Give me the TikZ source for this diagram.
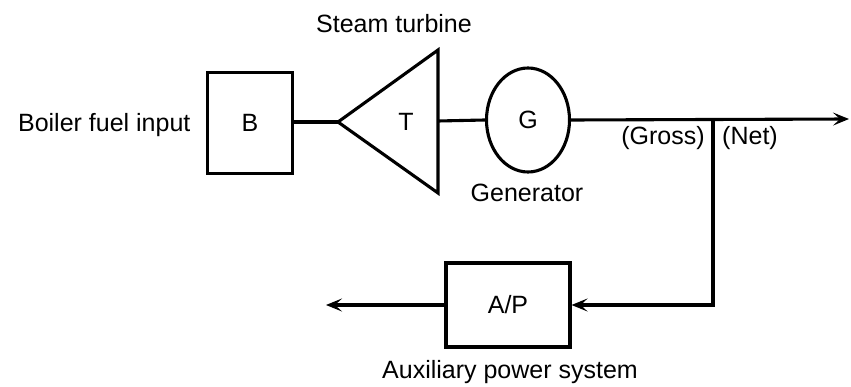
\documentclass[tikz,border=0pt]{standalone}
\usepackage{fontspec}
\setmainfont{Liberation Sans}
\usetikzlibrary{arrows.meta,shapes.geometric}
\begin{document}
\begin{tikzpicture}[x=1pt,y=-1pt, line width=3.1pt,
  lbl/.style={font=\fontsize{25}{29}\selectfont, inner sep=0pt},
  arr/.style={-{Stealth[length=16pt,width=13pt,inset=7pt]}}]
\useasboundingbox (0,0) rectangle (851,387);
% boiler
\node[draw, minimum width=85pt, minimum height=101pt, lbl] (B) at (250,123) {B};
% turbine
\coordinate (Ttip) at (338,122);
\coordinate (Ttop) at (438,50);
\coordinate (Tbot) at (438,193);
\draw[line join=miter] (Ttip) -- (Ttop) -- (Tbot) -- cycle;
\node[lbl] (T) at (406,122) {T};
\coordinate (Tright) at (438,121);
% generator
\node[draw, ellipse, minimum width=83pt, minimum height=104pt, lbl] (G) at (528,120) {G};
% auxiliary
\node[draw, minimum width=124pt, minimum height=84pt, lbl] (AP) at (508,305) {A/P};
\coordinate (Out) at (849,119);
\coordinate (J) at (713,119);
\coordinate (Aout) at (326,305);
% connectors
\draw (B.east |- Ttip) -- (Ttip);
\draw (Tright) -- (G.west);
\draw[arr] (G.east) -- (Out);
\draw[arr] (J) |- (AP.east);
\draw[arr] (AP.west) -- (Aout);
% labels
\node[lbl, anchor=east] (Lb) at (192,125) {Boiler fuel input};
\node[lbl] (Ls) at (394,24) {Steam turbine};
\node[lbl] (Lg) at (527,193) {Generator};
\node[lbl] (Lgr) at (663,138) {(Gross)};
\node[lbl] (Ln) at (750,138) {(Net)};
\node[lbl] (La) at (510,372) {Auxiliary power system};
\end{tikzpicture}
\end{document}
